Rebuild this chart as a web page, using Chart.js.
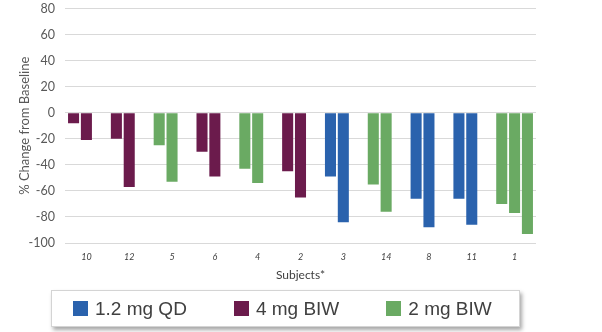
<!DOCTYPE html>
<html>
<head>
<meta charset="utf-8">
<script src="https://cdn.jsdelivr.net/npm/chart.js@4/dist/chart.umd.min.js"></script>
<style>
  html, body { margin: 0; padding: 0; background: #fff; }
  #wrap { position: relative; width: 602px; height: 332px; }
  canvas { display: block; }
  #legend {
    position: absolute; left: 51px; top: 290px; width: 469px; height: 37px;
    border: 1px solid #d4d4d4; background: #fff;
    box-shadow: 2px 3px 4px rgba(0,0,0,0.35);
    display: flex; align-items: center; padding-left: 21px; box-sizing: border-box;
    font-family: "Liberation Sans", Arial, sans-serif; font-size: 19px; color: #404040;
    white-space: nowrap;
  }
  .item { display: flex; align-items: center; margin-right: 47px; flex: none; }
  .sw { width: 15px; height: 15px; margin-right: 7px; }
</style>
</head>
<body>
<div id="wrap">
  <canvas id="chart" width="602" height="332"></canvas>
  <div id="legend"></div>
</div>
<script>
// subjects in the order they appear on the x axis
const subjects = ['10', '12', '5', '6', '4', '2', '3', '14', '8', '11', '1'];
// dose group of each subject
const subjectGroup = ['4 mg BIW', '4 mg BIW', '2 mg BIW', '4 mg BIW', '2 mg BIW', '4 mg BIW',
                      '1.2 mg QD', '2 mg BIW', '1.2 mg QD', '1.2 mg QD', '2 mg BIW'];
// % change from baseline, one array per measurement
const firstValues  = [-8, -20, -25, -30, -43, -45, -49, -55, -66, -66, -70];
const secondValues = [-21, -57, -53, -49, -54, -65, -84, -76, -88, -86, -77];
const thirdValues  = [null, null, null, null, null, null, null, null, null, null, -93];

const groups = ['1.2 mg QD', '4 mg BIW', '2 mg BIW'];
const groupColors = { '1.2 mg QD': '#2a62ad', '4 mg BIW': '#6b1b4c', '2 mg BIW': '#6aaa63' };

const yTicks = { min: -100, max: 80, step: 20 };

const barColors = subjectGroup.map(g => groupColors[g]);

function makeDataset(label, values) {
  return {
    label: label,
    data: values,
    backgroundColor: barColors,
    borderWidth: 0,
    categoryPercentage: 0.9,
    barPercentage: 0.86
  };
}

const ctx = document.getElementById('chart').getContext('2d');
new Chart(ctx, {
  type: 'bar',
  data: {
    labels: subjects,
    datasets: [
      makeDataset('Measurement 1', firstValues),
      makeDataset('Measurement 2', secondValues),
      makeDataset('Measurement 3', thirdValues)
    ]
  },
  options: {
    responsive: false,
    animation: false,
    layout: { padding: { top: 0, right: 66, bottom: 50, left: 17 } },
    plugins: {
      legend: { display: false },
      tooltip: { enabled: false }
    },
    scales: {
      x: {
        grid: { display: false },
        border: { display: false },
        ticks: {
          color: '#404040',
          font: { family: 'Lato', size: 9, style: 'italic' },
          padding: 1
        },
        title: {
          display: true,
          text: 'Subjects*',
          color: '#404040',
          font: { family: 'Lato', size: 12 },
          padding: { top: 5, bottom: 0 }
        },
        afterFit(scale) { scale.height = 39; }
      },
      y: {
        min: yTicks.min,
        max: yTicks.max,
        // invisible tick marks give the label gap without extra top padding
        grid: { color: '#d9d9d9', drawTicks: true, tickLength: 9, tickColor: 'rgba(0,0,0,0)' },
        border: { display: false },
        ticks: {
          stepSize: yTicks.step,
          color: '#595959',
          font: { family: 'Lato', size: 12.5 },
          padding: 1
        },
        title: {
          display: true,
          text: '% Change from Baseline',
          color: '#595959',
          font: { family: 'Lato', size: 13 },
          padding: { top: 0, bottom: 2 }
        },
        afterFit(scale) { scale.width = 48; }
      }
    }
  }
});

// HTML legend for the dose groups
const legendEl = document.getElementById('legend');
groups.forEach(g => {
  const item = document.createElement('div');
  item.className = 'item';
  const sw = document.createElement('span');
  sw.className = 'sw';
  sw.style.background = groupColors[g];
  const txt = document.createElement('span');
  txt.textContent = g;
  item.appendChild(sw);
  item.appendChild(txt);
  legendEl.appendChild(item);
});
</script>
</body>
</html>
